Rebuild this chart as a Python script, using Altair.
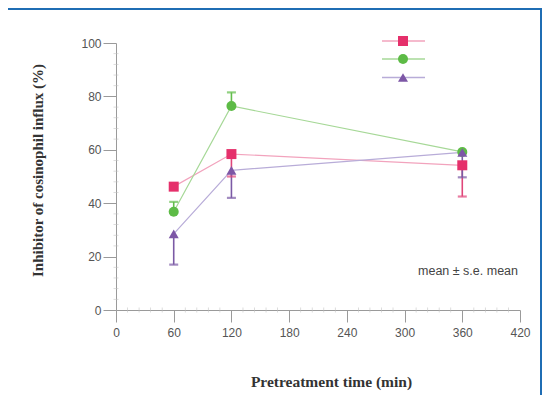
import altair as alt
import pandas as pd

# ---- data ----
times = [60, 120, 360]
series_names = ["Series 1", "Series 2", "Series 3"]
pink_mean = [46.2, 58.4, 54.2]
green_mean = [36.8, 76.4, 59.2]
purple_mean = [28.5, 52.3, 59.0]
# end of the one-sided s.e. bar (None = no visible bar)
pink_err = [None, 50.0, 42.5]
green_err = [40.5, 81.5, None]
purple_err = [17.0, 42.0, 49.7]

x_ticks = [0, 60, 120, 180, 240, 300, 360, 420]
y_ticks = [0, 20, 40, 60, 80, 100]
x_minor = [v for v in range(0, 421, 12) if v % 60 != 0]
y_minor = [v for v in range(0, 101, 4) if v % 20 != 0]

x_title = "Pretreatment time (min)"
y_title = "Inhibitor of cosinophil influx (%)"
note = "mean \u00b1 s.e. mean"

# ---- styles ----
dark = ["#e5306b", "#5dbb46", "#7d57a6"]
light = ["#f2a3bd", "#a6d897", "#b8acd8"]
errc = ["#e0467a", "#62bd4b", "#7b5aa5"]
shapes = ["square", "circle", "triangle-up"]
axis_gray = "#9a9a9a"
blue = "#1f6db4"

rows = []
for name, means, errs in zip(series_names, [pink_mean, green_mean, purple_mean],
                             [pink_err, green_err, purple_err]):
    for t, m, e in zip(times, means, errs):
        rows.append({"series": name, "time": t, "mean": m, "err": e})
df = pd.DataFrame(rows)
df_err = df.dropna(subset=["err"])

xs = alt.Scale(domain=[0, 420], nice=False, zero=False)
ys = alt.Scale(domain=[0, 100], nice=False, zero=False)

x_axis = alt.Axis(values=x_ticks, tickSize=12, labelPadding=5, grid=False,
                  domainColor=axis_gray, tickColor=axis_gray, labelColor="#555555",
                  labelFont="Liberation Sans", labelFontSize=12, labelFlush=False,
                  title=x_title, titleFont="Liberation Serif", titleFontSize=15.5,
                  titleFontWeight="bold", titleColor="#333333", titleX=215, titleY=71,
                  titleBaseline="middle", titleAlign="center")
y_axis = alt.Axis(values=y_ticks, tickSize=13, labelPadding=2, grid=False,
                  domainColor=axis_gray, tickColor=axis_gray, labelColor="#555555",
                  labelFont="Liberation Sans", labelFontSize=12, labelFlush=False,
                  title=y_title, titleFont="Liberation Serif", titleFontSize=15,
                  titleFontWeight="bold", titleColor="#333333", titleX=-79, titleY=127,
                  titleAngle=270, titleBaseline="middle", titleAlign="center")

base = alt.Chart(df)

lines = base.mark_line(strokeWidth=1.2).encode(
    x=alt.X("time:Q", scale=xs, axis=x_axis),
    y=alt.Y("mean:Q", scale=ys, axis=y_axis),
    color=alt.Color("series:N", scale=alt.Scale(domain=series_names, range=light), legend=None),
    detail="series:N",
)

err_bars = alt.Chart(df_err).mark_rule(strokeWidth=1.6).encode(
    x=alt.X("time:Q", scale=xs),
    y=alt.Y("mean:Q", scale=ys),
    y2="err:Q",
    color=alt.Color("series:N", scale=alt.Scale(domain=series_names, range=errc), legend=None),
)
err_caps = alt.Chart(df_err).mark_tick(orient="horizontal", size=9, thickness=2.2).encode(
    x=alt.X("time:Q", scale=xs),
    y=alt.Y("err:Q", scale=ys),
    color=alt.Color("series:N", scale=alt.Scale(domain=series_names, range=errc), legend=None),
)

points = base.mark_point(filled=True, opacity=1, size=100).encode(
    x=alt.X("time:Q", scale=xs),
    y=alt.Y("mean:Q", scale=ys),
    color=alt.Color("series:N", scale=alt.Scale(domain=series_names, range=dark), legend=None),
    shape=alt.Shape("series:N", scale=alt.Scale(domain=series_names, range=shapes), legend=None),
)

# minor ticks
minor_y = alt.Chart(pd.DataFrame({"v": y_minor})).mark_tick(
    orient="horizontal", size=5, thickness=0.8, color="#c0c0c0").encode(
    x=alt.value(0), y=alt.Y("v:Q", scale=ys))
minor_x = alt.Chart(pd.DataFrame({"v": x_minor})).mark_tick(
    orient="vertical", size=5, thickness=0.8, color="#c0c0c0").encode(
    y=alt.value(267), x=alt.X("v:Q", scale=xs))

# manual legend (symbols only, as in the reference)
legend_layers = []
leg_y = [-2, 16, 34.5]
for i, name in enumerate(series_names):
    d = pd.DataFrame({"series": [name]})
    legend_layers.append(alt.Chart(d).mark_rule(color=light[i], strokeWidth=1.4).encode(
        x=alt.value(266), x2=alt.value(309), y=alt.value(leg_y[i])))
    legend_layers.append(alt.Chart(d).mark_point(
        filled=True, opacity=1, size=100, shape=shapes[i], color=dark[i]).encode(
        x=alt.value(287), y=alt.value(leg_y[i])))

note_layer = alt.Chart(pd.DataFrame({"t": [note]})).mark_text(
    align="right", baseline="middle", font="Liberation Sans", fontSize=12.5,
    color="#444444").encode(text="t:N", x=alt.value(402), y=alt.value(228))

# blue frame of the figure (only the part inside the drawable area)
frame_right = alt.Chart(pd.DataFrame({"a": [0]})).mark_rect(color=blue).encode(
    x=alt.value(424), x2=alt.value(440), y=alt.value(-40), y2=alt.value(370))
frame_top = alt.Chart(pd.DataFrame({"a": [0]})).mark_rect(color=blue).encode(
    x=alt.value(-120), x2=alt.value(440), y=alt.value(-40), y2=alt.value(-33))

chart = alt.layer(
    frame_right, frame_top, minor_y, minor_x, lines, err_bars, err_caps, points,
    *legend_layers, note_layer
).resolve_scale(color="independent", shape="independent").properties(
    width=404, height=267,
    autosize=alt.AutoSizeParams(type="none"),
    padding={"left": 108, "top": 35, "right": 22, "bottom": 85},
    background="white",
).configure_view(stroke=None)

chart.save("out.html", embed_options={"renderer": "svg", "actions": False})
